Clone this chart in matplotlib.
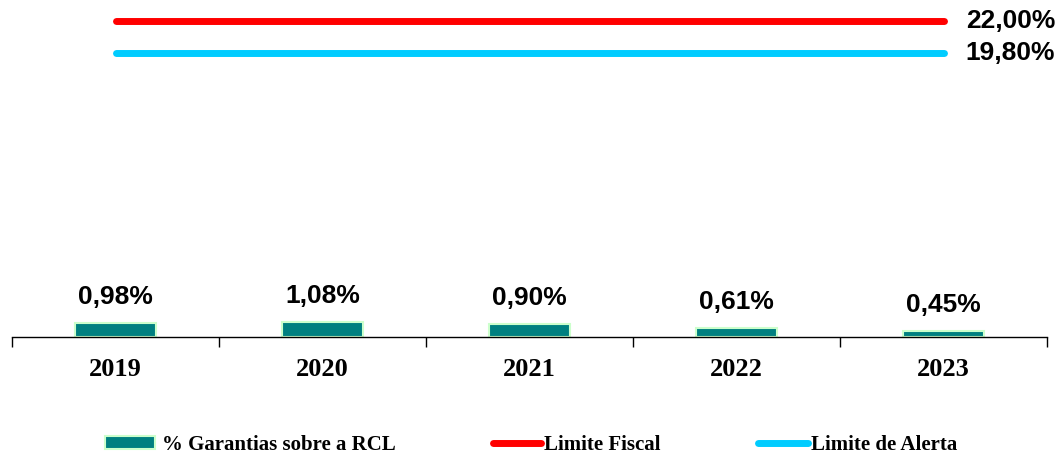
import numpy as np
import matplotlib
matplotlib.use("Agg")
import matplotlib.pyplot as plt
from matplotlib.lines import Line2D
from matplotlib.patches import Patch

# données
anos = ['2019', '2020', '2021', '2022', '2023']
garantias = [0.98, 1.08, 0.90, 0.61, 0.45]
limite_fiscal = [22.0, 22.0, 22.0, 22.0, 22.0]
limite_alerta = [19.8, 19.8, 19.8, 19.8, 19.8]

cor_barra = '#008080'
cor_borda = '#CCFFCC'
cor_fiscal = '#FF0000'
cor_alerta = '#00CCFF'

fig = plt.figure(figsize=(10.59, 4.54), dpi=100)
ax = fig.add_axes([12/1059, 117/454, 1035/1059, 330/454])

x = np.arange(len(anos))
ax.bar(x, garantias, width=0.39, color=cor_barra, edgecolor=cor_borda, linewidth=1.5)
ax.plot(x, limite_fiscal, color=cor_fiscal, lw=5, solid_capstyle='round')
ax.plot(x, limite_alerta, color=cor_alerta, lw=5, solid_capstyle='round')

def fmt(v):
    return f"{v:.2f}%".replace('.', ',')

for xi, v in zip(x, garantias):
    ax.annotate(fmt(v), (xi, v), xytext=(0, 10), textcoords='offset points',
                ha='center', va='bottom', fontsize=19, fontweight='bold',
                family='Liberation Sans')

ax.annotate(fmt(limite_fiscal[-1]), (x[-1], limite_fiscal[-1]), xytext=(16, 0),
            textcoords='offset points', ha='left', va='center', fontsize=19,
            fontweight='bold', family='Liberation Sans')
ax.annotate(fmt(limite_alerta[-1]), (x[-1], limite_alerta[-1]), xytext=(16, 0),
            textcoords='offset points', ha='left', va='center', fontsize=19,
            fontweight='bold', family='Liberation Sans')

ax.set_xlim(-0.5, len(anos) - 0.5)
ax.set_ylim(0, 23)
ax.set_yticks([])
for s in ['left', 'right', 'top']:
    ax.spines[s].set_visible(False)
ax.spines['bottom'].set_linewidth(1)

ax.set_xticks(x)
ax.set_xticklabels(anos, fontsize=19, fontweight='bold', family='Liberation Serif')
ax.tick_params(axis='x', which='major', length=0, pad=15)
ax.set_xticks(np.arange(-0.5, len(anos)), minor=True)
ax.tick_params(axis='x', which='minor', length=7, width=1, direction='out')

# légende : trois blocs placés séparément
handles = [Patch(facecolor=cor_barra, edgecolor=cor_borda, linewidth=1.5),
           Line2D([], [], color=cor_fiscal, lw=5, solid_capstyle='round'),
           Line2D([], [], color=cor_alerta, lw=5, solid_capstyle='round')]
labels = ['% Garantias sobre a RCL', 'Limite Fiscal', 'Limite de Alerta']
pos_x = [105, 493, 758]
hlen = [2.4, 2.3, 2.4]
pad = [0.35, 0.15, 0.15]
for h, l, px, hl, p in zip(handles, labels, pos_x, hlen, pad):
    leg = fig.legend([h], [l], loc='center left', bbox_to_anchor=(px/1059, 9/454),
                     frameon=False, borderpad=0, borderaxespad=0,
                     prop={'family': 'Liberation Serif', 'weight': 'bold', 'size': 15},
                     handlelength=hl, handleheight=0.6, handletextpad=p)

fig.savefig('out.png', dpi=100)
